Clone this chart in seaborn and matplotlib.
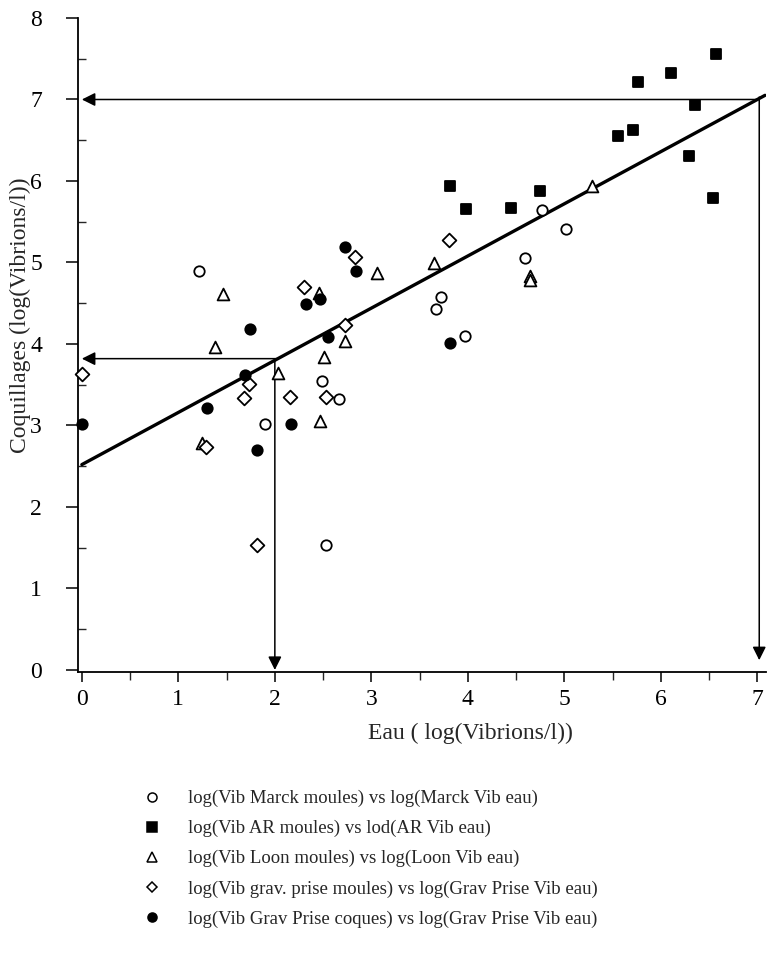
import matplotlib
matplotlib.use("Agg")
import matplotlib.pyplot as plt
from matplotlib.lines import Line2D
import seaborn as sns
import pandas as pd

# ---- data ----
marck_x = [1.21, 1.90, 2.49, 2.67, 2.53, 3.72, 3.67, 3.97, 4.59, 4.77, 5.02]
marck_y = [4.90, 3.02, 3.54, 3.33, 1.53, 4.58, 4.43, 4.10, 5.05, 5.64, 5.41]

ar_x = [3.81, 3.98, 4.45, 4.75, 5.56, 5.71, 5.76, 6.11, 6.35, 6.29, 6.54, 6.57]
ar_y = [5.94, 5.66, 5.67, 5.88, 6.55, 6.62, 7.21, 7.32, 6.93, 6.31, 5.79, 7.56]

loon_x = [1.46, 1.38, 2.46, 2.73, 2.51, 2.03, 2.47, 1.24, 3.06, 3.65, 4.64, 4.64, 5.29]
loon_y = [4.61, 3.96, 4.62, 4.04, 3.84, 3.65, 3.06, 2.78, 4.87, 4.99, 4.83, 4.79, 5.94]

gravm_x = [0.00, 2.30, 2.73, 1.73, 1.68, 2.16, 2.53, 1.29, 1.81, 2.83, 3.80]
gravm_y = [3.63, 4.70, 4.23, 3.51, 3.34, 3.35, 3.35, 2.74, 1.53, 5.07, 5.28]

gravc_x = [0.00, 2.32, 2.47, 1.74, 2.55, 1.69, 1.30, 2.17, 1.82, 2.73, 2.84, 3.82]
gravc_y = [3.02, 4.49, 4.55, 4.18, 4.09, 3.62, 3.21, 3.02, 2.70, 5.19, 4.90, 4.01]

labels = [
    "log(Vib Marck moules) vs log(Marck Vib eau)",
    "log(Vib AR moules) vs lod(AR Vib eau)",
    "log(Vib Loon moules) vs log(Loon Vib eau)",
    "log(Vib grav. prise moules) vs log(Grav Prise Vib eau)",
    "log(Vib Grav Prise coques) vs log(Grav Prise Vib eau)",
]

# regression line (fitted parameters) and read-off values
intercept = 2.52
slope = 0.64
line_x_end = 7.08
read_x = [2.0, 7.0]
read_y = [3.82, 7.0]

x_ticks = [0, 1, 2, 3, 4, 5, 6, 7]
y_ticks = [0, 1, 2, 3, 4, 5, 6, 7, 8]

# ---- style ----
sns.set_style("ticks")
plt.rcParams["font.family"] = ["Liberation Serif", "DejaVu Serif"]

fig = plt.figure(figsize=(7.67, 9.68), dpi=100)
ax = fig.add_axes([78 / 767, 296 / 968, 688 / 767, 654 / 968])

series = [
    (marck_x, marck_y, "o", "white", 7.5),
    (ar_x, ar_y, "s", "black", 7.5),
    (loon_x, loon_y, "^", "white", 8.5),
    (gravm_x, gravm_y, "D", "white", 7.0),
    (gravc_x, gravc_y, "o", "black", 7.5),
]
for (xs, ys, m, fc, ms), lab in zip(series, labels):
    df = pd.DataFrame({"x": xs, "y": ys})
    sns.scatterplot(data=df, x="x", y="y", marker=m, s=ms ** 2,
                    facecolor=fc, edgecolor="black", linewidth=1.3,
                    ax=ax, zorder=3, clip_on=False)

# regression line
lx = pd.Series([0.0, line_x_end])
ly = intercept + slope * lx
sns.lineplot(x=lx, y=ly, color="black", linewidth=2.4, ax=ax, zorder=2)

# read-off arrows
arrow_kw = dict(arrowstyle="-|>", mutation_scale=20, lw=1.1, color="black",
                shrinkA=0, shrinkB=0)
for rx, ry in zip(read_x, read_y):
    ax.annotate("", xy=(0.0, ry), xytext=(rx + 0.02, ry), arrowprops=arrow_kw,
                zorder=1)
ax.annotate("", xy=(read_x[0], 0.0), xytext=(read_x[0], read_y[0]),
            arrowprops=arrow_kw, zorder=1)
ax.annotate("", xy=(read_x[1] + 0.02, 0.12), xytext=(read_x[1] + 0.02, read_y[1] + 0.03),
            arrowprops=arrow_kw, zorder=1)

ax.set_xlim(-0.04, 7.09)
ax.set_ylim(-0.025, 8.0)
ax.set_xticks(x_ticks)
ax.set_yticks(y_ticks)
ax.set_xticks([v + 0.5 for v in x_ticks[:-1]], minor=True)
ax.set_yticks([v + 0.5 for v in y_ticks[:-1]], minor=True)
ax.tick_params(axis="x", which="major", direction="out", length=7, width=1.1,
               labelsize=17, pad=5, colors="black")
ax.tick_params(axis="x", which="minor", direction="out", length=6, width=1.0)
ax.tick_params(axis="y", which="major", direction="out", length=9, width=1.1,
               labelsize=17, pad=17, colors="black")
ax.tick_params(axis="y", which="minor", direction="in", length=6, width=1.0)

sns.despine(ax=ax)
for sp in ["left", "bottom"]:
    ax.spines[sp].set_linewidth(1.3)
    ax.spines[sp].set_color("black")

ax.set_xlabel("Eau ( log(Vibrions/l))", fontsize=17)
ax.set_ylabel("Coquillages (log(Vibrions/l))", fontsize=17)
ax.xaxis.set_label_coords(0.57, -0.078)
ax.yaxis.set_label_coords(-0.069, 0.546)

handles = [
    Line2D([], [], marker="o", ls="none", mfc="white", mec="black", ms=6.5, mew=1.1),
    Line2D([], [], marker="s", ls="none", mfc="black", mec="black", ms=6.5, mew=1.1),
    Line2D([], [], marker="^", ls="none", mfc="white", mec="black", ms=6.5, mew=1.1),
    Line2D([], [], marker="D", ls="none", mfc="white", mec="black", ms=5.5, mew=1.1),
    Line2D([], [], marker="o", ls="none", mfc="black", mec="black", ms=6.5, mew=1.1),
]
fig.legend(handles, labels, loc="upper left", bbox_to_anchor=(143 / 767, 1 - 790 / 968),
           frameon=False, fontsize=13.5, handlelength=1.0, handletextpad=1.4,
           labelspacing=0.68, borderpad=0, borderaxespad=0)

fig.savefig("out.png", dpi=100)
